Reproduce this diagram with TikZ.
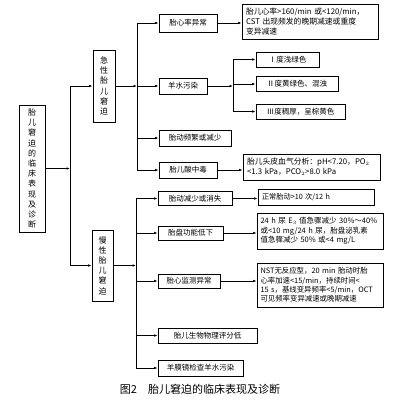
\documentclass[tikz,border=0pt]{standalone}
\usepackage{fontspec}
\setmainfont{Noto Sans CJK SC}
\usetikzlibrary{arrows.meta}
\begin{document}
\begin{tikzpicture}[x=1pt,y=-1pt,
  bx/.style={draw,line width=0.75pt,inner sep=0pt,font=\fontsize{7.5}{9}\selectfont},
  vbx/.style={bx,align=center,font=\fontsize{8}{10.2}\selectfont},
  dbx/.style={bx,align=left},
  ln/.style={line width=0.75pt},
  arr/.style={ln,-{Latex[length=3.5pt,width=2.6pt]}}]
\useasboundingbox (0,0) rectangle (404,400);
% root and level 1
\node[vbx,minimum width=26,minimum height=127] (root) at (32,168.5) {胎\\儿\\窘\\迫\\的\\临\\床\\表\\现\\及\\诊\\断};
\node[vbx,minimum width=22,minimum height=72] (acute) at (104,86) {急\\性\\胎\\儿\\窘\\迫};
\node[vbx,minimum width=21,minimum height=71] (chron) at (102.5,265.5) {慢\\性\\胎\\儿\\窘\\迫};
\coordinate (b0) at (70,168.5);
\coordinate (b0t) at (70,86);
\coordinate (b0b) at (70,265.5);
\draw[arr] (root.east) -- (b0);
\draw[ln] (b0t) -- (b0b);
\draw[arr] (b0t) -- (acute.west);
\draw[arr] (b0b) -- (chron.west);
% acute branch
\node[bx,minimum width=58,minimum height=18] (h1) at (188,23) {胎心率异常};
\node[bx,minimum width=48,minimum height=16] (h2) at (183,86) {羊水污染};
\node[bx,minimum width=72,minimum height=16] (h3) at (195,138) {胎动频繁或减少};
\node[bx,minimum width=58,minimum height=16] (h4) at (188,170) {胎儿酸中毒};
\coordinate (a0) at (137,86);
\coordinate (a1) at (137,23);
\coordinate (a4) at (137,170);
\draw[arr] (acute.east) -- (a0);
\draw[ln] (a1) -- (a4);
\draw[arr] (a1) -- (h1.west);
\draw[arr] (a0) -- (h2.west);
\draw[arr] (a0 |- h3) -- (h3.west);
\draw[arr] (a4) -- (h4.west);
\node[dbx,font=\fontsize{7.8}{9.8}\selectfont,minimum width=136,minimum height=35,text width=128] (d1) at (310,21.5) {胎儿心率>160/min 或<120/min，\\CST 出现频发的晚期减速或重度\\变异减速};
\draw[arr] (h1.east) -- (d1.west |- h1.east);
\coordinate (w0) at (233,86);
\coordinate (w1) at (233,59.5);
\coordinate (w3) at (233,111.5);
\node[bx,minimum width=63,minimum height=15] (c1) at (287.5,59.5) {Ⅰ度浅绿色};
\node[bx,minimum width=82,minimum height=15] (c2) at (297,84) {Ⅱ度黄绿色、混浊};
\node[bx,minimum width=89,minimum height=15] (c3) at (300.5,111.5) {Ⅲ度稠厚，呈棕黄色};
\draw[arr] (h2.east) -- (w0);
\draw[ln] (w1) -- (w3);
\draw[arr] (w1) -- (c1.west);
\draw[arr] (w0 |- c2) -- (c2.west);
\draw[arr] (w3) -- (c3.west);
\node[dbx,font=\fontsize{7.8}{10}\selectfont,minimum width=137,minimum height=26,text width=129] (d4) at (311.5,167) {胎儿头皮血气分析：pH<7.20，PO$_2$\\<1.3 kPa，PCO$_2$>8.0 kPa};
\draw[arr] (h4.east) -- (h4.east -| d4.west);
% chronic branch
\node[bx,minimum width=74,minimum height=14] (k1) at (195,198.5) {胎动减少或消失};
\node[bx,minimum width=65,minimum height=14] (k2) at (190.5,233) {胎盘功能低下};
\node[bx,minimum width=62,minimum height=14] (k3) at (189,281) {胎心监测异常};
\node[bx,minimum width=99,minimum height=15] (k4) at (207.5,335.5) {胎儿生物物理评分低};
\node[bx,minimum width=85,minimum height=16] (k5) at (200.5,368) {羊膜镜检查羊水污染};
\coordinate (m0) at (136,265.5);
\coordinate (m1) at (136,198.5);
\coordinate (m5) at (136,368);
\draw[arr] (chron.east) -- (m0);
\draw[ln] (m1) -- (m5);
\draw[arr] (m1) -- (k1.west);
\draw[arr] (m0 |- k2) -- (k2.west);
\draw[arr] (m0 |- k3) -- (k3.west);
\draw[arr] (m0 |- k4) -- (k4.west);
\draw[arr] (m5) -- (k5.west);
\node[dbx,font=\fontsize{7.2}{9}\selectfont,minimum width=116,minimum height=16,text width=108] (e1) at (316,197) {正常胎动>10 次/12 h};
\node[dbx,font=\fontsize{7.5}{9.6}\selectfont,minimum width=126,minimum height=36,text width=119] (e2) at (320,231) {24 h 尿 E$_3$ 值急骤减少 30\%～40\%\\或<10 mg/24 h 尿，胎盘泌乳素\\值急骤减少 50\% 或<4 mg/L};
\node[dbx,font=\fontsize{7.4}{9.4}\selectfont,minimum width=126,minimum height=44,text width=119] (e3) at (320,285) {NST无反应型，20 min 胎动时胎\\心率加速<15/min，持续时间<\\15 s，基线变异频率<5/min，OCT\\可见频率变异减速或晚期减速};
\draw[arr] (k1.east) -- (k1.east -| e1.west);
\draw[arr] (k2.east) -- (k2.east -| e2.west);
\draw[arr] (k3.east) -- (k3.east -| e3.west);
% caption
\node[font=\fontsize{11}{13}\selectfont] (cap) at (200,389) {图2\quad 胎儿窘迫的临床表现及诊断};
\end{tikzpicture}
\end{document}
